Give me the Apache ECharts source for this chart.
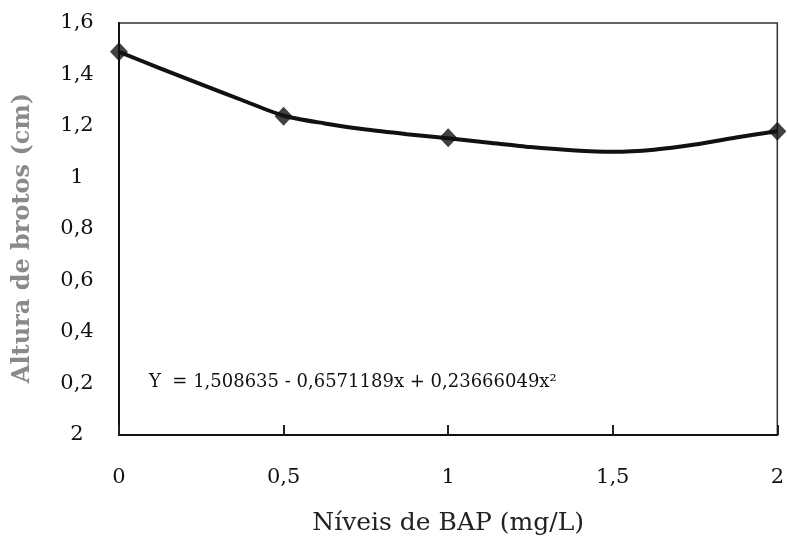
<!DOCTYPE html>
<html>
<head>
<meta charset="utf-8">
<script src="https://cdn.jsdelivr.net/npm/echarts@6/dist/echarts.min.js"></script>
<style>
  html, body { margin: 0; padding: 0; background: #fff; }
  #chart { width: 787px; height: 541px; }
</style>
</head>
<body>
<div id="chart"></div>
<script>
  // pontos observados (BAP mg/L, altura cm)
  var obsX = [0, 0.5, 1, 2];
  var obsY = [1.488, 1.238, 1.154, 1.18];
  // curva ajustada
  var curveX = [0, 0.125, 0.25, 0.375, 0.5, 0.625, 0.75, 0.875, 1.0, 1.125, 1.25, 1.375, 1.5, 1.625, 1.75, 1.875, 2.0];
  var curveY = [1.488, 1.424, 1.362, 1.30, 1.24, 1.21, 1.186, 1.168, 1.152, 1.135, 1.118, 1.106, 1.10, 1.108, 1.128, 1.155, 1.18];
  var xTickLabels = ['0', '0,5', '1', '1,5', '2'];
  var yTickLabels = ['2', '0,2', '0,4', '0,6', '0,8', '1', '1,2', '1,4', '1,6'];
  var equation = 'Y  = 1,508635 - 0,6571189x + 0,23666049x²';

  var font = 'DejaVu Serif';
  var myChart = echarts.init(document.getElementById('chart'));
  myChart.setOption({
    animation: false,
    grid: {
      left: 119, right: 4, top: 23, bottom: 101,
      show: true, borderColor: '#333', borderWidth: 1.5
    },
    xAxis: {
      type: 'value', min: 0, max: 2, interval: 0.5,
      name: 'Níveis de BAP (mg/L)', nameLocation: 'middle', nameGap: 76,
      nameTextStyle: { fontFamily: font, fontSize: 25, color: '#222' },
      axisLine: { lineStyle: { color: '#111', width: 2 } },
      axisTick: { show: true, inside: true, length: 10, lineStyle: { color: '#222', width: 2 } },
      axisLabel: {
        fontFamily: font, fontSize: 21, color: '#111', margin: 32,
        formatter: function (v) { return xTickLabels[Math.round(v / 0.5)]; }
      },
      splitLine: { show: false }
    },
    yAxis: {
      type: 'value', min: 0, max: 1.6, interval: 0.2,
      name: 'Altura de brotos (cm)', nameLocation: 'middle', nameRotate: 90, nameGap: 84,
      nameTextStyle: { fontFamily: font, fontSize: 24, color: '#8a8a8a', fontWeight: 'bold', padding: [0, 18, 0, 0] },
      axisLine: { show: true, lineStyle: { color: '#111', width: 2 } },
      axisTick: { show: false },
      axisLabel: {
        fontFamily: font, fontSize: 21, color: '#111', margin: 42, align: 'center',
        formatter: function (v) { return yTickLabels[Math.round(v / 0.2)]; }
      },
      splitLine: { show: false }
    },
    graphic: [{
      type: 'text', left: 149, top: 373,
      style: { text: equation, fontFamily: font, fontSize: 18, fill: '#111' }
    }],
    series: [
      {
        type: 'line', smooth: 0.25, symbol: 'none',
        data: curveX.map(function (x, i) { return [x, curveY[i]]; }),
        lineStyle: { color: '#111', width: 4 }
      },
      {
        type: 'scatter', symbol: 'diamond', symbolSize: [18, 19],
        data: obsX.map(function (x, i) { return [x, obsY[i]]; }),
        itemStyle: { color: '#111' }
      }
    ]
  });
</script>
</body>
</html>
